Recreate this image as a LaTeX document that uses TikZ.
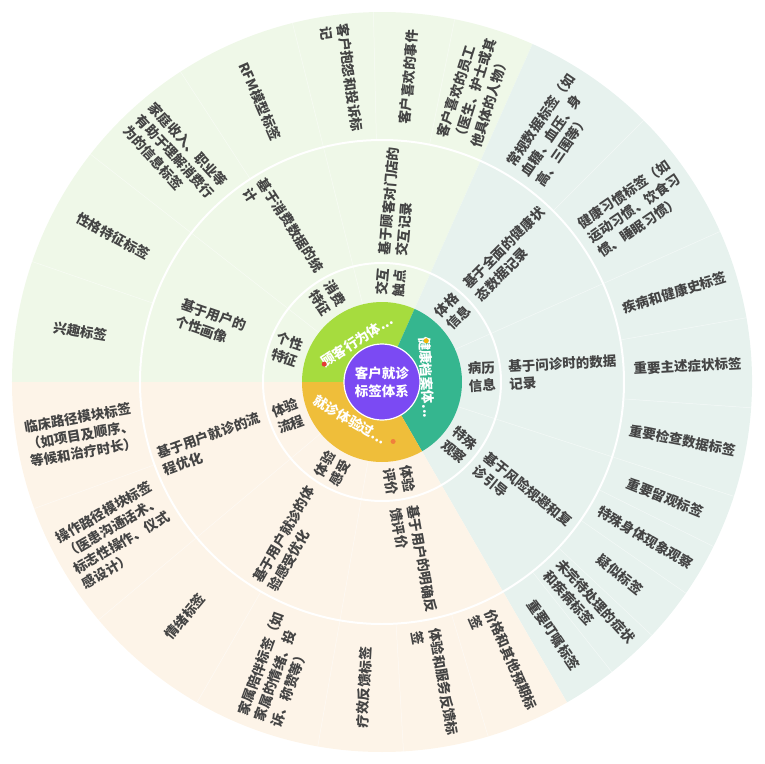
\documentclass[tikz,border=0pt]{standalone}
\usepackage{fontspec}
\setmainfont{Noto Sans CJK SC}

\definecolor{rootpurple}{HTML}{7B4AF3}
\definecolor{catgreen}{HTML}{A6DC3E}
\definecolor{catteal}{HTML}{35B68F}
\definecolor{catyellow}{HTML}{EFBE3A}
\definecolor{bggreen}{HTML}{EFF8E8}
\definecolor{bgteal}{HTML}{E7F2EE}
\definecolor{bgcream}{HTML}{FDF4E8}
\definecolor{labelgray}{HTML}{444444}
\definecolor{dotred}{HTML}{E53935}
\definecolor{dotgold}{HTML}{F2B705}
\definecolor{dotorange}{HTML}{F07F3C}

\tikzset{
  leaflabel/.style={font=\fontsize{13.5}{17.5}\selectfont\bfseries, text=labelgray, align=left, inner sep=0pt},
  sublabel/.style={font=\fontsize{13.5}{17.5}\selectfont\bfseries, text=labelgray, align=left, inner sep=0pt},
  catlabel/.style={font=\fontsize{13.5}{17.5}\selectfont\bfseries, text=white, inner sep=0pt},
  faint/.style={white, line width=0.5pt, opacity=0.55},
  ringline/.style={white, line width=2pt}
}

\begin{document}
\begin{tikzpicture}[x=1pt, y=1pt]

		\useasboundingbox (-382,-382) rectangle (382,382);

		% Define the background sectors
		\fill[bggreen] (0,0) -- (66:370) arc[start angle=66, end angle=180, radius=370pt] -- cycle;
		\fill[bgteal] (0,0) -- (-60:370) arc[start angle=-60, end angle=66, radius=370pt] -- cycle;
		\fill[bgcream] (0,0) -- (180:370) arc[start angle=180, end angle=300, radius=370pt] -- cycle;

		% Define the leaf and branch separators
		\foreach \a in {78.67, 91.33, 104, 123, 142, 161, 45, 24, 10, -4, -18, -26.4, -34.8, -43.2, -51.6, 200, 220, 240, 260, 273.33, 286.67}
			\draw[faint] (\a:242) -- (\a:370);
		\foreach \a in {104, 142, 24, -18, 220, 260}
			\draw[faint] (\a:80) -- (\a:242);
		\draw[ringline] (0,0) circle (119pt);
		\draw[ringline] (0,0) circle (242pt);

		% Define the category ring
		\fill[catgreen] (0,0) -- (66:80) arc[start angle=66, end angle=180, radius=80pt] -- cycle;
		\fill[catteal] (0,0) -- (-60:80) arc[start angle=-60, end angle=66, radius=80pt] -- cycle;
		\fill[catyellow] (0,0) -- (180:80) arc[start angle=180, end angle=300, radius=80pt] -- cycle;

		% Define the root
		\node[circle, fill=rootpurple, draw=white, line width=1.2pt, minimum size=76pt, inner sep=0pt, text=white, align=center,
			font=\fontsize{13.5}{18}\selectfont\bfseries] (root) at (0,0) {客户就诊\\标签体系};

		% Define the categories
		\node[catlabel, rotate=33] (behaviour) at (121.4:48) {顾客行为体...};
		\node[catlabel, rotate=-87] (health_record) at (5.7:45) {健康档案体...};
		\node[catlabel, rotate=-30] (visit_experience) at (229.9:49.5) {就诊体验过...};
		\fill[dotred] (162.8:60.5) circle (2.5pt);
		\fill[dotgold] (43:60.5) circle (2.5pt);
		\fill[dotorange] (280.6:60.5) circle (2.5pt);

		% Define the sub categories
		\node[sublabel, rotate=85] (touchpoint) at (85:100) {交互\\触点};
		\node[sublabel, rotate=-57] (consumption) at (123:100) {消费\\特征};
		\node[sublabel, rotate=-19] (personality_trait) at (161:100) {个性\\特征};
		\node[sublabel, rotate=45] (physique) at (45:100) {体格\\信息};
		\node[sublabel, rotate=3] (medical_history) at (3:100) {病历\\信息};
		\node[sublabel, rotate=-39] (special_watch) at (-39:100) {特殊\\观察};
		\node[sublabel, rotate=20] (visit_flow) at (200:100) {体验\\流程};
		\node[sublabel, rotate=60] (visit_feeling) at (240:100) {体验\\感受};
		\node[sublabel, rotate=-80] (visit_rating) at (280:100) {体验\\评价};

		% Define the bases
		\node[sublabel, rotate=85] (interaction_record) at (85:181) {基于顾客对门店的\\交互记录};
		\node[sublabel, rotate=-57] (consumption_stats) at (123:181) {基于消费数据的统\\计};
		\node[sublabel, rotate=-19] (user_portrait) at (161:181) {基于用户的\\个性画像};
		\node[sublabel, rotate=45] (health_state) at (45:181) {基于全面的健康状\\态数据记录};
		\node[sublabel, rotate=3] (inquiry_record) at (3:181) {基于问诊时的数据\\记录};
		\node[sublabel, rotate=-39] (risk_guide) at (-39:181) {基于风险规避和复\\诊引导};
		\node[sublabel, rotate=20] (flow_optimise) at (200:181) {基于用户就诊的流\\程优化};
		\node[sublabel, rotate=60] (feeling_optimise) at (240:181) {基于用户就诊的体\\验感受优化};
		\node[sublabel, rotate=-80] (feedback_rating) at (280:181) {基于用户的明确反\\馈评价};

		% Add labels for tags
		\node[leaflabel, rotate=72.33] (favourite_staff) at (72.33:306) {客户喜欢的员工\\（医生、护士或其\\他具体的人物）};
		\node[leaflabel, rotate=85] (favourite_event) at (85:306) {客户喜欢的事件};
		\node[leaflabel, rotate=-82.33] (complaint) at (97.67:306) {客户抱怨和投诉标\\记};
		\node[leaflabel, rotate=-66.5] (rfm) at (113.5:306) {RFM模型标签};
		\node[leaflabel, rotate=-47.5] (household) at (132.5:306) {家庭收入、职业等\\有助于理解消费行\\为的信息标签};
		\node[leaflabel, rotate=-28.5] (character) at (151.5:306) {性格特征标签};
		\node[leaflabel, rotate=-9.5] (interest) at (170.5:306) {兴趣标签};
		\node[leaflabel, rotate=55.5] (routine_data) at (55.5:306) {常规数据标签（如\\血糖、血压、身\\高、三围等）};
		\node[leaflabel, rotate=34.5] (health_habit) at (34.5:306) {健康习惯标签（如\\运动习惯、饮食习\\惯、睡眠习惯）};
		\node[leaflabel, rotate=17] (disease_history) at (17:306) {疾病和健康史标签};
		\node[leaflabel, rotate=3] (chief_symptom) at (3:306) {重要主述症状标签};
		\node[leaflabel, rotate=-11] (exam_data) at (-11:306) {重要检查数据标签};
		\node[leaflabel, rotate=-22.2] (observation) at (-22.2:306) {重要留观标签};
		\node[leaflabel, rotate=-30.6] (body_sign) at (-30.6:306) {特殊身体现象观察};
		\node[leaflabel, rotate=-39] (suspected) at (-39:306) {疑似标签};
		\node[leaflabel, rotate=-47.4] (pending) at (-47.4:306) {未完待处理的症状\\和疾病标签};
		\node[leaflabel, rotate=-55.8] (instruction) at (-55.8:306) {重要叮嘱标签};
		\node[leaflabel, rotate=10] (clinical_path) at (190:306) {临床路径模块标签\\（如项目及顺序、\\等候和治疗时长）};
		\node[leaflabel, rotate=30] (operation_path) at (210:306) {操作路径模块标签\\（医患沟通话术、\\标志性操作、仪式\\感设计）};
		\node[leaflabel, rotate=50] (emotion) at (230:306) {情绪标签};
		\node[leaflabel, rotate=70] (family) at (250:306) {家属陪伴标签（如\\家属的情绪、投\\诉、称赞等）};
		\node[leaflabel, rotate=86.67] (efficacy) at (266.67:306) {疗效反馈标签};
		\node[leaflabel, rotate=-80] (service_feedback) at (280:306) {体验和服务反馈标\\签};
		\node[leaflabel, rotate=-66.67] (price) at (293.33:306) {价格和其他预期标\\签};

	\end{tikzpicture}
\end{document}
